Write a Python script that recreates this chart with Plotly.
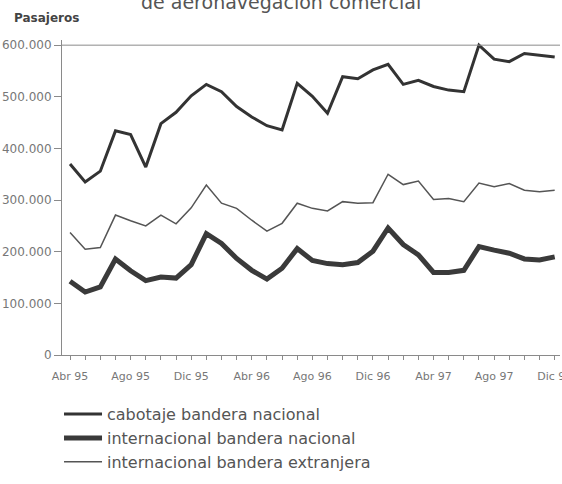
import plotly.graph_objects as go

# months Abr 95 .. Dic 97
months = ["Abr 95", "May 95", "Jun 95", "Jul 95", "Ago 95", "Sep 95", "Oct 95", "Nov 95",
          "Dic 95", "Ene 96", "Feb 96", "Mar 96", "Abr 96", "May 96", "Jun 96", "Jul 96",
          "Ago 96", "Sep 96", "Oct 96", "Nov 96", "Dic 96", "Ene 97", "Feb 97", "Mar 97",
          "Abr 97", "May 97", "Jun 97", "Jul 97", "Ago 97", "Sep 97", "Oct 97", "Nov 97",
          "Dic 97"]
tick_labels = ["Abr 95", "Ago 95", "Dic 95", "Abr 96", "Ago 96", "Dic 96", "Abr 97", "Ago 97", "Dic 97"]

cabotaje = [370, 335, 356, 434, 427, 364, 448, 470, 502, 524, 510, 481, 461, 444, 436, 526,
            501, 468, 539, 535, 552, 563, 524, 532, 520, 513, 510, 600, 573, 568, 584, 581, 577]
intl_nacional = [143, 122, 132, 186, 163, 144, 151, 149, 175, 235, 216, 187, 164, 147, 168, 206,
                 183, 177, 175, 179, 201, 246, 214, 194, 160, 160, 164, 210, 203, 197, 186, 184, 190]
intl_extranjera = [237, 205, 208, 271, 260, 250, 271, 254, 285, 329, 294, 284, 261, 240, 255, 294,
                   284, 279, 297, 294, 295, 350, 330, 337, 301, 303, 297, 333, 326, 332, 319, 316, 319]

y_ticks = [0, 100000, 200000, 300000, 400000, 500000, 600000]

FONT = "DejaVu Sans, Verdana, sans-serif"

fig = go.Figure()

fig.add_trace(go.Scatter(x=months, y=[v * 1000 for v in cabotaje], mode="lines",
                         name="cabotaje bandera nacional", legendgroup="a",
                         line=dict(color="#333333", width=3)))
fig.add_trace(go.Scatter(x=months, y=[v * 1000 for v in intl_nacional], mode="lines",
                         name="internacional bandera nacional", legendgroup="b",
                         line=dict(color="#3a3a3a", width=5)))
fig.add_trace(go.Scatter(x=months, y=[v * 1000 for v in intl_extranjera], mode="lines",
                         name="internacional bandera extranjera", legendgroup="c",
                         line=dict(color="#555555", width=1.5)))

# top frame line at 600.000
fig.add_shape(type="line", xref="paper", yref="y", x0=0, x1=1, y0=600000, y1=600000,
              line=dict(color="#8a8a8a", width=1))

fig.add_annotation(text="de aeronavegación comercial", xref="paper", yref="paper",
                   x=0.44, y=1.08, xanchor="center", yanchor="bottom", showarrow=False,
                   font=dict(family=FONT, size=19, color="#555555"))
fig.add_annotation(text="<b>Pasajeros</b>", xref="paper", yref="paper",
                   x=-0.1, y=1.07, xanchor="left", yanchor="middle", showarrow=False,
                   font=dict(family=FONT, size=12, color="#444444"))

fig.update_xaxes(type="category", range=[-0.53, 32.35],
                 tickvals=months,
                 ticktext=[m if m in tick_labels else "" for m in months],
                 showgrid=False, zeroline=False, automargin=False,
                 showline=True, linecolor="#8a8a8a", linewidth=1,
                 ticks="outside", ticklen=4, tickcolor="#8a8a8a", ticklabelstandoff=7,
                 tickfont=dict(family=FONT, size=11, color="#777777"))
fig.update_yaxes(range=[0, 610000], tickvals=y_ticks, tickformat=",d",
                 showgrid=False, zeroline=False, automargin=False,
                 showline=True, linecolor="#8a8a8a", linewidth=1,
                 ticks="outside", ticklen=7, tickcolor="#8a8a8a",
                 tickfont=dict(family=FONT, size=12, color="#777777"))

fig.update_layout(
    width=562, height=484,
    margin=dict(l=62, r=2, t=40, b=129),
    paper_bgcolor="white", plot_bgcolor="white",
    separators=",.",
    showlegend=True,
    legend=dict(x=-0.006, y=-0.134, xanchor="left", yanchor="top",
                tracegroupgap=0, itemwidth=38, bgcolor="rgba(0,0,0,0)",
                font=dict(family=FONT, size=16, color="#555555")),
)

# drop the browser's default body margin so the figure sits at the page corner
fig.write_html("out.html", config={"displayModeBar": False},
               post_script="document.body.style.margin='0';")
